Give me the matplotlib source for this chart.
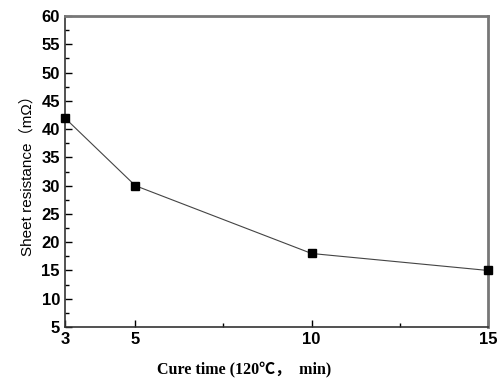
import matplotlib
matplotlib.use('Agg')
import matplotlib.pyplot as plt
from matplotlib.ticker import MultipleLocator

# data
cure_time = [3, 5, 10, 15]
sheet_res = [42, 30, 18, 15]

fig = plt.figure(figsize=(5.02, 3.82), dpi=100)
ax = fig.add_axes([0.129, 0.144, 0.843, 0.814])

ax.plot(cure_time, sheet_res, color='#444444', lw=0.8, marker='s',
        markersize=6, markerfacecolor='black', markeredgecolor='black', clip_on=False, zorder=3)

ax.set_xlim(3, 15)
ax.set_ylim(5, 60)
ax.set_xticks([3, 5, 10, 15])
ax.set_xticks([7.5, 12.5], minor=True)
ax.yaxis.set_major_locator(MultipleLocator(5))
ax.yaxis.set_minor_locator(MultipleLocator(2.5))
ax.tick_params(which='both', direction='in', top=False, right=False)
ax.tick_params(which='major', length=5, width=1)
ax.tick_params(which='minor', length=3, width=1)
for lbl in ax.get_xticklabels() + ax.get_yticklabels():
    lbl.set_fontfamily('Liberation Sans')
    lbl.set_fontweight('bold')
    lbl.set_fontsize(12)

for s in ['left', 'bottom']:
    ax.spines[s].set_color('#333333')
    ax.spines[s].set_linewidth(1.2)
for s in ['top', 'right']:
    ax.spines[s].set_color('#777777')
    ax.spines[s].set_linewidth(2)

ax.set_xlabel('Cure time (120℃，  min)', family=['Liberation Serif', 'Noto Sans CJK SC'],
              fontweight='bold', fontsize=11.5, labelpad=9)
ax.xaxis.set_label_coords(0.423, -0.115)
ax.set_ylabel('Sheet resistance（mΩ）', family=['Liberation Sans', 'Noto Sans CJK SC'],
              fontsize=11, labelpad=5)

fig.savefig('out.png', dpi=100)
